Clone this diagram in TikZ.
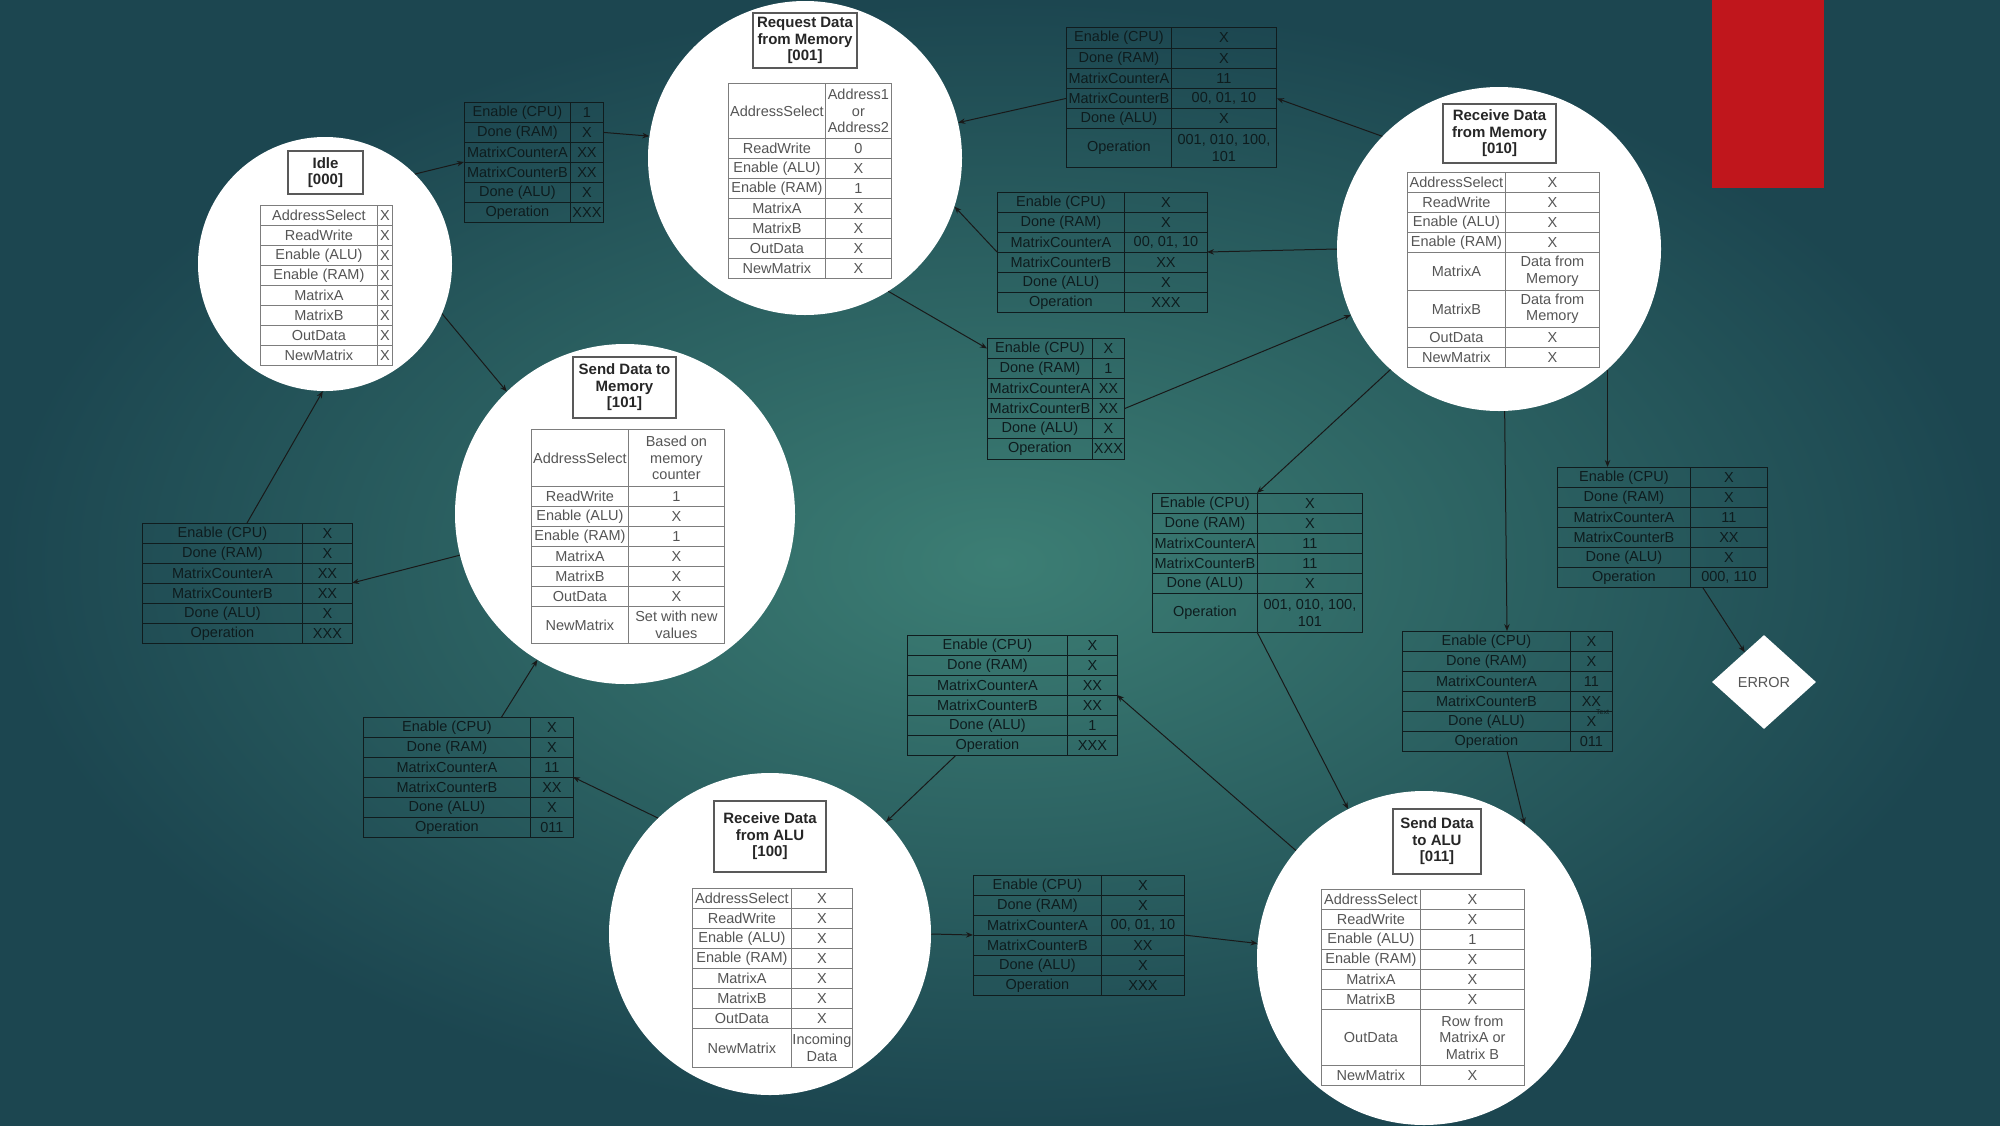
\documentclass[tikz,border=0pt]{standalone}
\usepackage{fontspec}
\setmainfont{Liberation Sans}
\usetikzlibrary{arrows.meta,shapes.geometric,calc}
\definecolor{bgin}{RGB}{60,126,116}
\definecolor{bgout}{RGB}{28,70,80}
\definecolor{errred}{RGB}{192,22,28}
\definecolor{cgrid}{RGB}{125,125,125}
\definecolor{ctext}{RGB}{85,85,85}
\definecolor{tgrid}{RGB}{16,28,30}
\definecolor{ttext}{RGB}{14,28,30}
\newcommand\tabfont{\fontsize{14.5}{16.5}\selectfont}
\newcommand\ttlfont{\fontsize{15}{16.5}\selectfont\bfseries}
\newcommand\Tstart[6]{\gdef\Tname{#1}\gdef\Tx{#2}\gdef\Ty{#3}\gdef\Tyz{#3}\gdef\Twl{#4}\gdef\Twr{#5}\gdef\Ti{0}\tikzset{curcell/.style={#6}}}
\newcommand\Trow[3]{%
  \pgfmathtruncatemacro\Tnext{\Ti+1}\xdef\Ti{\Tnext}%
  \node[curcell, minimum width=\Twl pt, minimum height=#1pt, anchor=north west] (\Tname-\Ti l) at (\Tx,\Ty) {#2};
  \node[curcell, minimum width=\Twr pt, minimum height=#1pt, anchor=north west] (\Tname-\Ti r) at (\Tx+\Twl,\Ty) {#3};
  \pgfmathsetmacro\Tnexty{\Ty+#1}\xdef\Ty{\Tnexty}}
\newcommand\Tend{%
  \pgfmathsetmacro\Tabw{\Twl+\Twr}\pgfmathsetmacro\Tabh{\Ty-\Tyz}%
  \node[inner sep=0pt, outer sep=0pt, minimum width=\Tabw pt, minimum height=\Tabh pt, anchor=north west] (\Tname) at (\Tx,\Tyz) {};}
\begin{document}
\begin{tikzpicture}[x=1pt,y=-1pt,
  incell/.style={draw=cgrid, line width=0.8pt, fill=white, text=ctext, inner sep=0pt, align=center, font=\tabfont},
  trcell/.style={draw=tgrid, line width=0.9pt, text=ttext, inner sep=0pt, align=center, font=\tabfont},
  state/.style={circle, fill=white, draw=none, inner sep=0pt},
  ttl/.style={draw=black!65, line width=1.2pt, fill=white, align=center, font=\ttlfont, text=black!85, inner sep=0pt},
  arr/.style={draw=black!90, line width=1pt, -{Stealth[length=7pt,width=5.5pt]}}]
\useasboundingbox (0,0) rectangle (2000,1125);
\shade[inner color=bgin, outer color=bgout] (0,0) rectangle (2000,1125);
\node[fill=errred, minimum width=112pt, minimum height=188pt, inner sep=0pt, anchor=north west] (redbox) at (1712,0) {};

% states
\node[state, minimum size=254pt] (idle) at (325,264) {};
\node[state, minimum size=314pt] (req) at (805,158) {};
\node[state, minimum size=324pt] (recm) at (1499,249) {};
\node[state, minimum size=340pt] (sendm) at (625,514) {};
\node[state, minimum size=322pt] (reca) at (770,934) {};
\node[state, minimum size=334pt] (senda) at (1424,958) {};
\node[diamond, fill=white, minimum width=104pt, minimum height=94pt, inner sep=0pt, font=\fontsize{14.5}{16}\selectfont, text=ctext] (err) at (1764,682) {ERROR};

% titles
\node[ttl, minimum width=75pt, minimum height=43pt] (idle-t) at (325.5,172.5) {Idle\\{[000]}};
\node[ttl, minimum width=104pt, minimum height=55pt] (req-t) at (805,40.5) {Request Data\\from Memory\\{[001]}};
\node[ttl, minimum width=113pt, minimum height=59pt] (recm-t) at (1499.5,133.5) {Receive Data\\from Memory\\{[010]}};
\node[ttl, minimum width=103pt, minimum height=61pt] (sendm-t) at (624.5,387.5) {Send Data to\\Memory\\{[101]}};
\node[ttl, minimum width=112pt, minimum height=71pt] (reca-t) at (770,836.5) {Receive Data\\from ALU\\{[100]}};
\node[ttl, minimum width=88pt, minimum height=65pt] (senda-t) at (1437,841.5) {Send Data\\to ALU\\{[011]}};

% state tables
\Tstart{sti}{260}{205}{117}{15}{incell}
\Trow{20}{AddressSelect}{X}
\Trow{20}{ReadWrite}{X}
\Trow{20}{Enable (ALU)}{X}
\Trow{20}{Enable (RAM)}{X}
\Trow{20}{MatrixA}{X}
\Trow{20}{MatrixB}{X}
\Trow{20}{OutData}{X}
\Trow{20}{NewMatrix}{X}
\Tend

\Tstart{str}{728}{83}{97}{66}{incell}
\Trow{55}{AddressSelect}{Address1\\or\\Address2}
\Trow{20}{ReadWrite}{0}
\Trow{20}{Enable (ALU)}{X}
\Trow{20}{Enable (RAM)}{1}
\Trow{20}{MatrixA}{X}
\Trow{20}{MatrixB}{X}
\Trow{20}{OutData}{X}
\Trow{20}{NewMatrix}{X}
\Tend

\Tstart{strm}{1407}{172}{98}{94}{incell}
\Trow{20}{AddressSelect}{X}
\Trow{20}{ReadWrite}{X}
\Trow{20}{Enable (ALU)}{X}
\Trow{20}{Enable (RAM)}{X}
\Trow{38}{MatrixA}{Data from\\Memory}
\Trow{37}{MatrixB}{Data from\\Memory}
\Trow{20}{OutData}{X}
\Trow{20}{NewMatrix}{X}
\Tend

\Tstart{stsm}{531}{429}{97}{96}{incell}
\Trow{57}{AddressSelect}{Based on\\memory\\counter}
\Trow{20}{ReadWrite}{1}
\Trow{20}{Enable (ALU)}{X}
\Trow{20}{Enable (RAM)}{1}
\Trow{20}{MatrixA}{X}
\Trow{20}{MatrixB}{X}
\Trow{20}{OutData}{X}
\Trow{37}{NewMatrix}{Set with new\\values}
\Tend

\Tstart{stra}{692}{888}{99}{61}{incell}
\Trow{20}{AddressSelect}{X}
\Trow{20}{ReadWrite}{X}
\Trow{20}{Enable (ALU)}{X}
\Trow{20}{Enable (RAM)}{X}
\Trow{20}{MatrixA}{X}
\Trow{20}{MatrixB}{X}
\Trow{20}{OutData}{X}
\Trow{39}{NewMatrix}{Incoming\\Data}
\Tend

\Tstart{stsa}{1321}{889}{99}{104}{incell}
\Trow{20}{AddressSelect}{X}
\Trow{20}{ReadWrite}{X}
\Trow{20}{Enable (ALU)}{1}
\Trow{20}{Enable (RAM)}{X}
\Trow{20}{MatrixA}{X}
\Trow{20}{MatrixB}{X}
\Trow{56}{OutData}{Row from\\MatrixA or\\Matrix B}
\Trow{20}{NewMatrix}{X}
\Tend

% transition tables
\Tstart{t1}{464}{102}{106}{33}{trcell}
\Trow{20}{Enable (CPU)}{1}
\Trow{20}{Done (RAM)}{X}
\Trow{20}{MatrixCounterA}{XX}
\Trow{20}{MatrixCounterB}{XX}
\Trow{20}{Done (ALU)}{X}
\Trow{20}{Operation}{XXX}
\Tend

\Tstart{t2}{1066}{27}{105}{105}{trcell}
\Trow{21}{Enable (CPU)}{X}
\Trow{20}{Done (RAM)}{X}
\Trow{20}{MatrixCounterA}{11}
\Trow{20}{MatrixCounterB}{00, 01, 10}
\Trow{20}{Done (ALU)}{X}
\Trow{39}{Operation}{001, 010, 100,\\101}
\Tend

\Tstart{t3}{997}{192}{127}{83}{trcell}
\Trow{20}{Enable (CPU)}{X}
\Trow{20}{Done (RAM)}{X}
\Trow{20}{MatrixCounterA}{00, 01, 10}
\Trow{20}{MatrixCounterB}{XX}
\Trow{20}{Done (ALU)}{X}
\Trow{20}{Operation}{XXX}
\Tend

\Tstart{t4}{987}{338}{105}{32}{trcell}
\Trow{20}{Enable (CPU)}{X}
\Trow{20}{Done (RAM)}{1}
\Trow{20}{MatrixCounterA}{XX}
\Trow{20}{MatrixCounterB}{XX}
\Trow{20}{Done (ALU)}{X}
\Trow{21}{Operation}{XXX}
\Tend

\Tstart{t5}{142}{523}{160}{50}{trcell}
\Trow{20}{Enable (CPU)}{X}
\Trow{20}{Done (RAM)}{X}
\Trow{20}{MatrixCounterA}{XX}
\Trow{20}{MatrixCounterB}{XX}
\Trow{20}{Done (ALU)}{X}
\Trow{20}{Operation}{XXX}
\Tend

\Tstart{t6}{1152}{493}{105}{105}{trcell}
\Trow{20}{Enable (CPU)}{X}
\Trow{20}{Done (RAM)}{X}
\Trow{20}{MatrixCounterA}{11}
\Trow{20}{MatrixCounterB}{11}
\Trow{20}{Done (ALU)}{X}
\Trow{39}{Operation}{001, 010, 100,\\101}
\Tend

\Tstart{t7}{1557}{467}{133}{77}{trcell}
\Trow{20}{Enable (CPU)}{X}
\Trow{20}{Done (RAM)}{X}
\Trow{20}{MatrixCounterA}{11}
\Trow{20}{MatrixCounterB}{XX}
\Trow{20}{Done (ALU)}{X}
\Trow{20}{Operation}{000, 110}
\Tend

\Tstart{t8}{1402}{631}{168}{42}{trcell}
\Trow{20}{Enable (CPU)}{X}
\Trow{20}{Done (RAM)}{X}
\Trow{20}{MatrixCounterA}{11}
\Trow{20}{MatrixCounterB}{XX}
\Trow{20}{Done (ALU)}{X}
\Trow{20}{Operation}{011}
\Tend
\node[font=\fontsize{7}{8}\selectfont, text=ttext, anchor=west, inner sep=0pt] (stray) at (1596,712) {Text};

\Tstart{t9}{907}{635}{160}{50}{trcell}
\Trow{20}{Enable (CPU)}{X}
\Trow{20}{Done (RAM)}{X}
\Trow{20}{MatrixCounterA}{XX}
\Trow{20}{MatrixCounterB}{XX}
\Trow{20}{Done (ALU)}{1}
\Trow{20}{Operation}{XXX}
\Tend

\Tstart{t10}{363}{717}{167}{43}{trcell}
\Trow{20}{Enable (CPU)}{X}
\Trow{20}{Done (RAM)}{X}
\Trow{20}{MatrixCounterA}{11}
\Trow{20}{MatrixCounterB}{XX}
\Trow{20}{Done (ALU)}{X}
\Trow{20}{Operation}{011}
\Tend

\Tstart{t11}{973}{875}{128}{83}{trcell}
\Trow{20}{Enable (CPU)}{X}
\Trow{20}{Done (RAM)}{X}
\Trow{20}{MatrixCounterA}{00, 01, 10}
\Trow{20}{MatrixCounterB}{XX}
\Trow{20}{Done (ALU)}{X}
\Trow{20}{Operation}{XXX}
\Tend

% connectors
\draw[arr] (idle.45) -- (t1.west);
\draw[arr] (t1-2r.east) -- (req.172);
\draw[arr] (recm.136) -- (t2-4r.east);
\draw[arr] (t2-4l.west) -- (req.13);
\draw[arr] (recm.180) -- (t3.east);
\draw[arr] (t3.west) -- (req.-18);
\draw[arr] (req.-58) -- (t4-1l.west);
\draw[arr] (t4-4r.east) -- (recm.204);
\draw[arr] (recm.228) -- (t6.north);
\draw[arr] (t6.south) -- (senda.117);
\draw[arr] (recm.-48) -- (recm.-48 |- t7.north);
\draw[arr] ([xshift=13pt]t7-6r.south west) -- (err);
\draw[arr] (recm.-88) -- (t8.north);
\draw[arr] (t8.south) -- (senda.53);
\draw[arr] (senda.140) -- (t9.east);
\draw[arr] ($(t9-6l.south west)!0.3!(t9-6l.south east)$) -- (reca.44);
\draw[arr] (reca.134) -- (t10.east);
\draw[arr] ($(t10.north west)!0.66!(t10.north east)$) -- (sendm.239);
\draw[arr] (sendm.194) -- (t5.east);
\draw[arr] (t5.north) -- (idle.-91);
\draw[arr] (idle.-23) -- (sendm.134);
\draw[arr] (reca.east) -- (t11.west);
\draw[arr] (t11.east) -- (senda.175);
\end{tikzpicture}
\end{document}
